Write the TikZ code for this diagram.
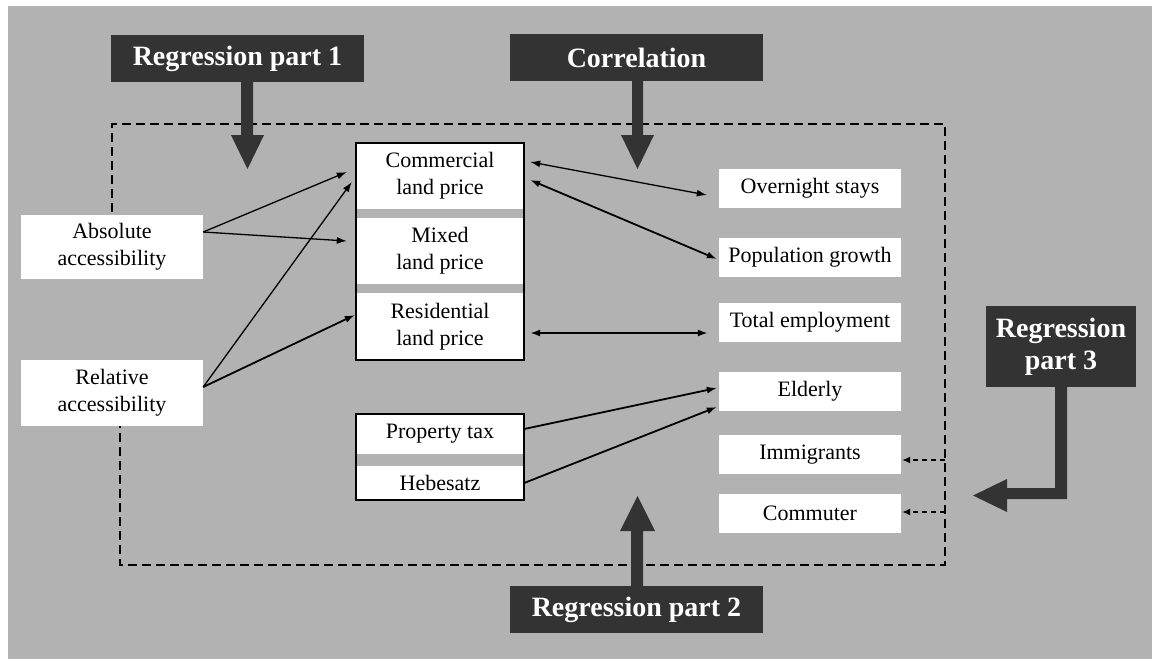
\documentclass[tikz,border=0pt]{standalone}
\usepackage{fontspec}
\setmainfont{Liberation Serif}
\usetikzlibrary{arrows.meta}
\definecolor{panel}{HTML}{B2B2B2}
\definecolor{banner}{HTML}{333333}

\begin{document}
\begin{tikzpicture}[x=1pt,y=-1pt,
  varbox/.style={fill=white, inner sep=0pt, align=center,
    font=\fontsize{22}{27}\selectfont, minimum width=182pt, minimum height=39pt},
  pricebox/.style={varbox, minimum width=168pt, minimum height=66pt},
  taxbox/.style={varbox, minimum width=168pt},
  bannerbox/.style={fill=banner, text=white, inner sep=0pt, align=center,
    font=\fontsize{28}{32}\selectfont\bfseries, minimum width=253pt, minimum height=47pt},
  bigarrow/.style={fill=banner},
  frame/.style={line width=1.4pt, dash pattern=on 9pt off 5pt},
  link/.style={line width=1.3pt, -{Latex[length=10pt,width=7pt]}},
  heavylink/.style={link, line width=1.8pt},
  corr/.style={line width=1.3pt, {Latex[length=10pt,width=7pt]}-{Latex[length=10pt,width=7pt]}},
  heavycorr/.style={corr, line width=1.8pt},
  dotlink/.style={line width=1.4pt, dash pattern=on 5pt off 4pt, -{Latex[length=8pt,width=7pt]}},
]
\useasboundingbox (0,0) rectangle (1152,659);
\fill[panel] (8,6) rectangle (1152,659);

% dashed study frame (left side passes behind the accessibility boxes)
\draw[frame] (112,240) -- (112,124) -- (945,124) -- (945,565) -- (120,565) -- (120,410);
\coordinate (fi) at (945,460);
\coordinate (fc) at (945,512);

% banners
\node[bannerbox] (reg1) at (237.5,58.5) {Regression part 1};
\node[bannerbox] (corrl) at (636.5,57.5) {Correlation};
\node[bannerbox] (reg2) at (636.5,609.5) {Regression part 2};
\node[bannerbox, minimum width=150pt, minimum height=81pt] (reg3) at (1061,346.5) {Regression\\part 3};

% banner arrows
\fill[bigarrow] (241,82) -- (253,82) -- (253,135) -- (264,135) -- (247.5,169) -- (231,135) -- (241,135) -- cycle;
\fill[bigarrow] (632,81) -- (643,81) -- (643,135) -- (654,135) -- (637.5,169) -- (621,135) -- (632,135) -- cycle;
\fill[bigarrow] (631,586) -- (643,586) -- (643,531) -- (655,531) -- (637.5,496) -- (620,531) -- (631,531) -- cycle;
\fill[bigarrow] (1055,387) -- (1067,387) -- (1067,499) -- (1007,499) -- (1007,512) -- (973,495.5)
  -- (1007,479) -- (1007,488) -- (1055,488) -- cycle;

% accessibility measures
\node[varbox, minimum height=64pt] (abs) at (112,247) {Absolute\\accessibility};
\node[varbox, minimum height=66pt] (rel) at (112,393) {Relative\\accessibility};

% land prices
\node[pricebox] (com) at (440,176) {Commercial\\land price};
\node[pricebox] (mix) at (440,251) {Mixed\\land price};
\node[pricebox, minimum height=67pt] (res) at (440,326.5) {Residential\\land price};
\draw[line width=2.5pt] (com.north west) rectangle (res.south east);

% tax
\node[taxbox, minimum height=40pt] (ptax) at (440,434) {Property tax};
\node[taxbox, minimum height=34pt] (hebe) at (440,483) {Hebesatz};
\draw[line width=2.5pt] (ptax.north west) rectangle (hebe.south east);

% outcome variables
\node[varbox] (over) at (810,188.5) {Overnight stays};
\node[varbox] (pop) at (810,257.5) {Population growth};
\node[varbox] (emp) at (810,322.5) {Total employment};
\node[varbox] (eld) at (810,391.5) {Elderly};
\node[varbox] (imm) at (810,454.5) {Immigrants};
\node[varbox] (comm) at (810,513.5) {Commuter};

% regression part 1
\draw[link] ([shift={(0,-15)}]abs.east) -- ([shift={(-9,-4)}]com.west);
\draw[link] ([shift={(0,-15)}]abs.east) -- ([shift={(-9,-10)}]mix.west);
\draw[link] ([shift={(0,-6)}]rel.east) -- ([shift={(-4,6)}]com.west);
\draw[heavylink] ([shift={(0,-6)}]rel.east) -- ([shift={(-1,-11.5)}]res.west);

% correlation
\draw[corr] ([shift={(6,-14)}]com.east) -- ([shift={(-12,6.5)}]over.west);
\draw[heavycorr] ([shift={(6,4)}]com.east) -- ([shift={(-2,1.5)}]pop.west);
\draw[heavycorr] ([shift={(6,6.5)}]res.east) -- ([shift={(-11,10.5)}]emp.west);

% regression part 2
\draw[heavylink] ([shift={(0,-5)}]ptax.east) -- ([shift={(-2,-3.5)}]eld.west);
\draw[heavylink] (hebe.east) -- ([shift={(-2,15.5)}]eld.west);

% regression part 3
\draw[dotlink] (fi) -- ([shift={(1,5.5)}]imm.east);
\draw[dotlink] (fc) -- ([shift={(1,-1.5)}]comm.east);
\end{tikzpicture}
\end{document}
